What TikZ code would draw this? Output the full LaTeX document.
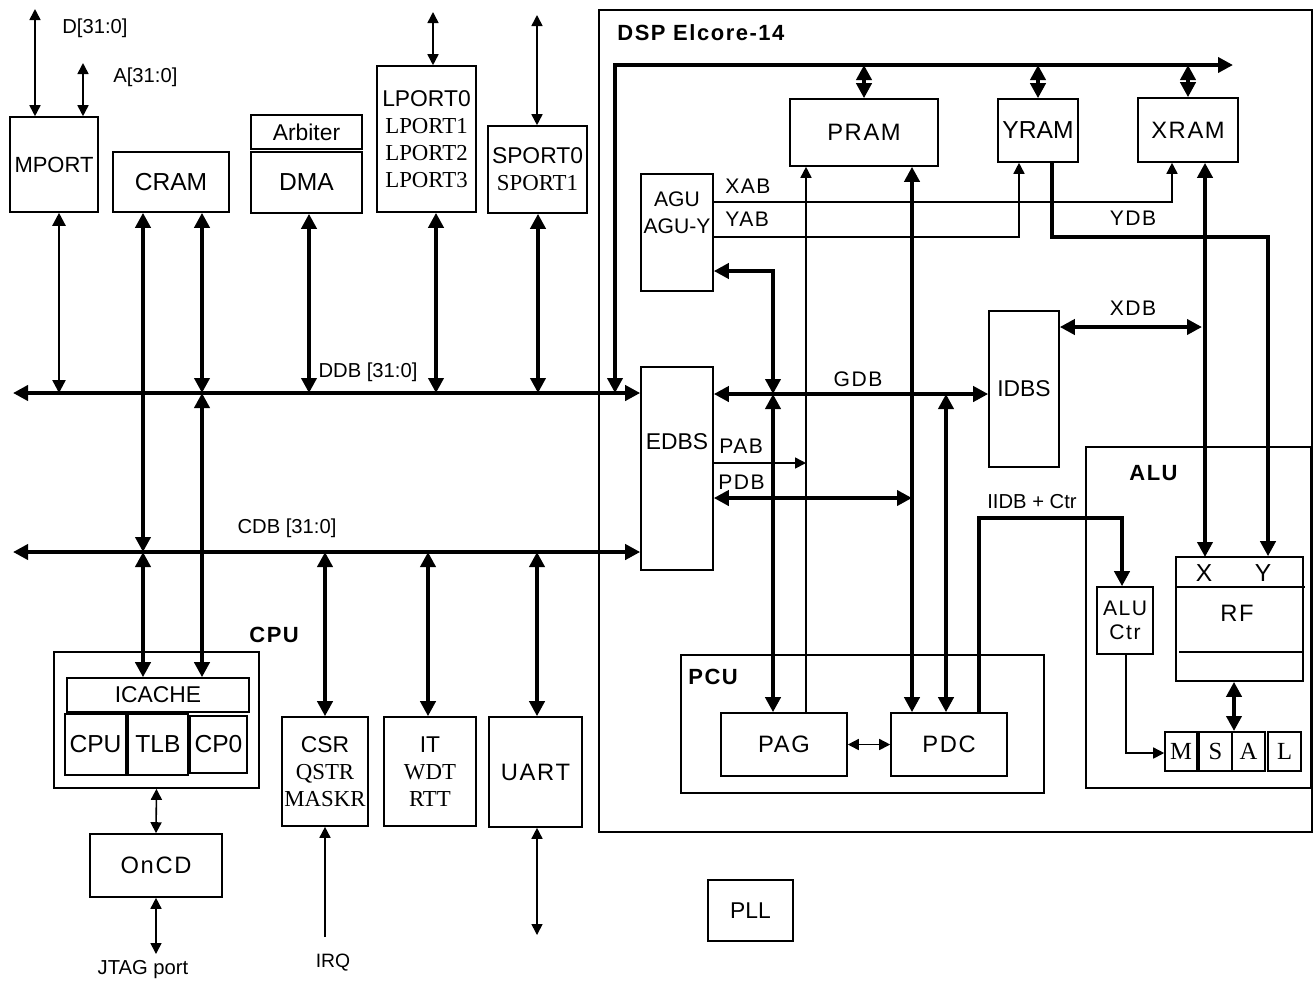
\documentclass[tikz,border=0pt]{standalone}
\usepackage{fontspec}
\setmainfont{Liberation Sans}
\newfontfamily\tnr{Liberation Serif}
\newfontfamily\wide{Liberation Sans}[LetterSpace=7]
\usetikzlibrary{arrows.meta, positioning, fit}

\begin{document}
\begin{tikzpicture}[
  x=0.2mm, y=-0.2mm,
  box/.style={draw, line width=0.9pt, inner sep=0pt, align=center, font=\fontsize{13}{15.5}\selectfont},
  sz/.style 2 args={minimum width=#1*0.2mm, minimum height=#2*0.2mm},
  frame/.style={draw, line width=0.9pt, inner sep=0pt},
  big/.style={font=\fontsize{14}{15.5}\selectfont},
  wbig/.style={font=\wide\fontsize{13.5}{15.5}\selectfont},
  serif/.style={font=\tnr\fontsize{14}{15}\selectfont},
  lbl/.style={inner sep=0pt, font=\fontsize{11.5}{14}\selectfont},
  buslbl/.style={inner sep=0pt, font=\wide\fontsize{12}{14}\selectfont},
  head/.style={inner sep=0pt, font=\wide\bfseries\fontsize{12.5}{14}\selectfont},
  dbus/.style={line width=2.2pt, {Triangle[length=3mm,width=3mm]}-{Triangle[length=3mm,width=3mm]}},
  ubus/.style={line width=2.2pt, -{Triangle[length=3mm,width=3mm]}},
  mwire/.style={line width=1.4pt, {Triangle[length=2.6mm,width=2.6mm]}-{Triangle[length=2.6mm,width=2.6mm]}},
  dwire/.style={line width=0.9pt, {Triangle[length=2.2mm,width=2.2mm]}-{Triangle[length=2.2mm,width=2.2mm]}},
  uwire/.style={line width=0.9pt, -{Triangle[length=2.2mm,width=2.2mm]}}
]
\useasboundingbox (0,0) rectangle (1314,982);

\node[frame, fit={(599,10) (1312,832)}] (dsp) {};
\node[head, anchor=west] (dsplbl) at (617,33) {DSP Elcore-14};

\node[box, sz={88}{95}, font=\fontsize{12.5}{15}\selectfont] (mport) at (54,164.5) {MPORT};
\node[box, sz={116}{60}, big] (cram) at (171,182) {CRAM};
\node[box, sz={111}{34}] (arb) at (306.5,132) {Arbiter};
\node[box, sz={111}{61}, big] (dma) at (306.5,182.5) {DMA};
\node[box, sz={99}{146}] (lport) at (426.5,139) {LPORT0\\{\tnr LPORT1}\\{\tnr LPORT2}\\{\tnr LPORT3}};
\node[box, sz={99}{87}] (sport) at (537.5,169.5) {SPORT0\\{\tnr SPORT1}};

\node[box, sz={148}{67}, wbig] (pram) at (864,132.5) {PRAM};
\node[box, sz={80}{63}, big] (yram) at (1038,130.5) {YRAM};
\node[box, sz={100}{64}, wbig] (xram) at (1188,130) {XRAM};
\node[box, sz={72}{117}] (agu) at (677,232.5) {};
\node[inner sep=0pt, align=center, font=\fontsize{12}{15.3}\selectfont] (agutxt) at (677,213) {AGU\\AGU-Y};
\node[box, sz={72}{203}] (edbs) at (677,468.5) {};
\node[inner sep=0pt, font=\fontsize{13}{15}\selectfont] (edbstxt) at (677,442) {EDBS};
\node[box, sz={70}{156}] (idbs) at (1024,389) {IDBS};

\node[frame, fit={(681,655) (1044,793)}] (pcu) {};
\node[head, anchor=west] (pculbl) at (688,677) {PCU};
\node[box, sz={126}{63}, wbig] (pag) at (784,744.5) {PAG};
\node[box, sz={116}{63}, wbig] (pdc) at (949,744.5) {PDC};

\node[frame, fit={(1086,447) (1311,788)}] (alu) {};
\node[head, anchor=west] (alulbl) at (1129,473) {ALU};
\node[box, sz={56}{67}, font=\wide\fontsize{12}{14}\selectfont] (aluctr) at (1125,620.5) {ALU\\Ctr};
\node[box, sz={127}{124}] (rf) at (1239.5,619) {};
\draw[line width=0.9pt] (1176,587) -- (1305,587);
\draw[line width=0.9pt] (1179,652) -- (1303,652);
\node[inner sep=0pt, big] (rfx) at (1204,573) {X};
\node[inner sep=0pt, big] (rfy) at (1263,573) {Y};
\node[inner sep=0pt, wbig] (rftxt) at (1237,613) {RF};
\node[box, sz={32}{39}, serif] (m) at (1181,751.5) {M};
\node[box, sz={33}{39}, serif] (s) at (1215.5,751.5) {S};
\node[box, sz={33}{39}, serif] (a) at (1248.5,751.5) {A};
\node[box, sz={33}{39}, serif] (l) at (1284.5,751.5) {L};

\node[head, anchor=west] (cpulbl) at (249,635) {CPU};
\node[frame, fit={(54,652) (259,788)}] (cpubox) {};
\node[box, sz={182}{34}] (icache) at (158,695) {ICACHE};
\node[box, sz={61}{61}, big] (core) at (95.5,744.5) {CPU};
\node[box, sz={60}{61}, big] (tlb) at (158,744.5) {TLB};
\node[box, sz={57}{57}, big] (cp0) at (218.5,744.5) {CP0};
\node[box, sz={132}{63}, wbig] (oncd) at (156,865.5) {OnCD};
\node[box, sz={86}{109}] (csr) at (325,771.5) {CSR\\{\tnr QSTR}\\{\tnr MASKR}};
\node[box, sz={92}{109}] (it) at (430,771.5) {IT\\{\tnr WDT}\\{\tnr RTT}};
\node[box, sz={93}{110}, wbig] (uart) at (535.5,772) {UART};
\node[box, sz={85}{61}] (pll) at (750.5,910.5) {PLL};

\node[lbl, anchor=west] (dlbl) at (62,28) {D[31:0]};
\node[lbl, anchor=west] (albl) at (113,77) {A[31:0]};
\node[lbl] (ddblbl) at (368,372) {DDB [31:0]};
\node[lbl] (cdblbl) at (287,528) {CDB [31:0]};
\node[lbl] (jtaglbl) at (143,970) {JTAG port};
\node[lbl, font=\fontsize{11}{13}\selectfont] (irqlbl) at (333,963) {IRQ};
\node[buslbl, anchor=west] (xablbl) at (725,186) {XAB};
\node[buslbl, anchor=west] (yablbl) at (725,219) {YAB};
\node[buslbl] (ydblbl) at (1133,218) {YDB};
\node[buslbl] (gdblbl) at (858,379) {GDB};
\node[buslbl, anchor=west] (pablbl) at (719,446) {PAB};
\node[buslbl, anchor=west] (pdblbl) at (718,482) {PDB};
\node[buslbl] (xdblbl) at (1133,308) {XDB};
\node[lbl, anchor=west] (iidblbl) at (987,502) {IIDB + Ctr};

\coordinate (dext) at (35,9);
\coordinate (aext) at (83,63);
\coordinate (lext) at (433,12);
\coordinate (sext) at (537,15);
\coordinate (ddbW) at (13,393);
\coordinate (cdbW) at (13,552);
\coordinate (d1) at (59,393);
\coordinate (c2) at (143,552);
\coordinate (d3) at (202,393);
\coordinate (d4) at (309,393);
\coordinate (d5) at (436,393);
\coordinate (d6) at (538,393);
\coordinate (c7) at (325,552);
\coordinate (c8) at (428,552);
\coordinate (c9) at (537,552);
\coordinate (irq) at (325,937);
\coordinate (uext) at (537,935);
\coordinate (jtag) at (155,954);
\coordinate (tbusW) at (615,65);
\coordinate (tbusE) at (1233,65);
\coordinate (aguk) at (773,271);
\coordinate (gdbA) at (773,394);
\coordinate (gdbB) at (946,394);
\coordinate (pabx) at (806,463);
\coordinate (pdbx) at (912,498);
\coordinate (iidbA) at (979,518);
\coordinate (iidbB) at (1122,518);
\coordinate (xabk) at (1172,202);
\coordinate (yabk) at (1019,237);
\coordinate (xdbx) at (1202,327);
\coordinate (rfX) at (1205,557);
\coordinate (ydbA) at (1052,237);
\coordinate (ydbB) at (1268,237);
\coordinate (rfm) at (1234,731);
\coordinate (ctrk) at (1126,753);

\draw[dwire] (dext) -- (dext |- mport.north);
\draw[dwire] (aext) -- (aext |- mport.north);
\draw[dwire] (lext) -- (lext |- lport.north);
\draw[dwire] (sext) -- (sext |- sport.north);
\draw[dbus] (ddbW) -- (ddbW -| edbs.west);
\draw[dbus] (cdbW) -- (cdbW -| edbs.west);
\draw[mwire] (mport.south -| d1) -- (d1);
\draw[dbus] (cram.south -| c2) -- (c2);
\draw[dbus] (c2) -- (c2 |- icache.north);
\draw[dbus] (cram.south -| d3) -- (d3);
\draw[dbus] (d3) -- (d3 |- icache.north);
\draw[dbus] (dma.south -| d4) -- (d4);
\draw[dbus] (lport.south -| d5) -- (d5);
\draw[dbus] (sport.south -| d6) -- (d6);
\draw[dbus] (c7) -- (c7 |- csr.north);
\draw[dbus] (c8) -- (c8 |- it.north);
\draw[dbus] (c9) -- (c9 |- uart.north);
\draw[uwire] (irq) -- (irq |- csr.south);
\draw[dwire] (uart.south -| uext) -- (uext);
\draw[dwire] (cpubox.south) -- (oncd.north);
\draw[dwire] (oncd.south) -- (oncd.south |- jtag);

\draw[dbus] (tbusW |- ddbW) -- (tbusW) -- (tbusE);
\draw[dbus] (pram.north |- tbusW) -- (pram.north);
\draw[dbus] (yram.north |- tbusW) -- (yram.north);
\draw[dbus] (xram.north |- tbusW) -- (xram.north);
\draw[dbus] (agu.east |- aguk) -- (aguk) -- (gdbA);
\draw[dbus] (gdbA) -- (gdbA |- pag.north);
\draw[dbus] (gdbA -| edbs.east) -- (gdbA -| idbs.west);
\draw[uwire] (edbs.east |- pabx) -- (pabx);
\draw[uwire] (pag.north -| pabx) -- (pram.south -| pabx);
\draw[dbus] (pram.south -| pdbx) -- (pdc.north -| pdbx);
\draw[dbus] (edbs.east |- pdbx) -- (pdbx);
\draw[dbus] (gdbB) -- (gdbB |- pdc.north);
\draw[ubus] (pdc.north -| iidbA) -- (iidbA) -- (iidbB) -- (aluctr.north -| iidbB);
\draw[uwire] (agu.east |- xabk) -- (xabk) -- (xram.south -| xabk);
\draw[uwire] (agu.east |- yabk) -- (yabk) -- (yram.south -| yabk);
\draw[dbus] (idbs.east |- xdbx) -- (xdbx);
\draw[dbus] (xram.south -| rfX) -- (rfX);
\draw[ubus] (yram.south -| ydbA) -- (ydbA) -- (ydbB) -- (rf.north -| ydbB);
\draw[dbus] (rf.south -| rfm) -- (rfm);
\draw[uwire] (aluctr.south -| ctrk) -- (ctrk) -- (m.west |- ctrk);
\draw[dwire] (pag.east) -- (pdc.west);
\end{tikzpicture}
\end{document}
